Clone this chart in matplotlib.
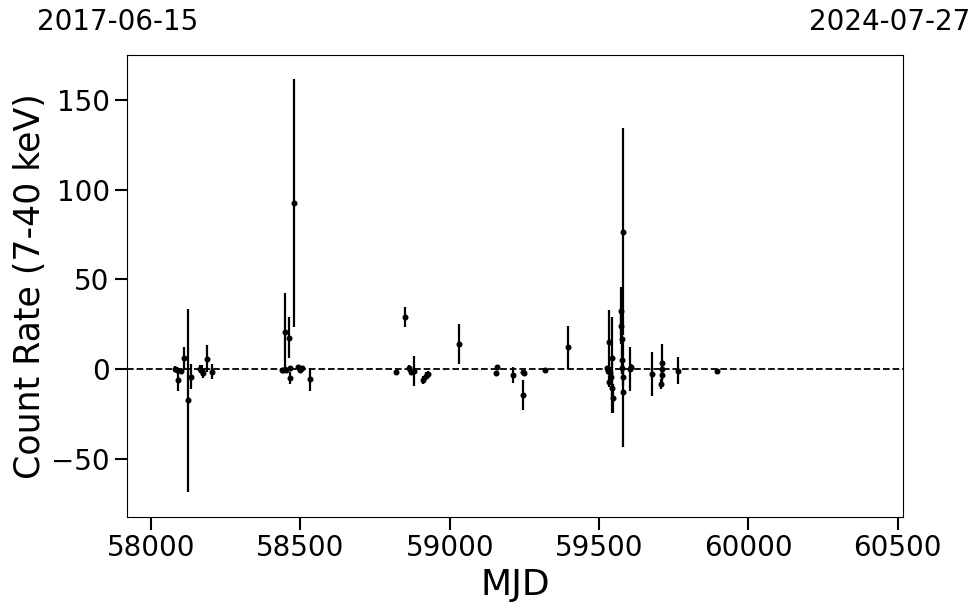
import datetime as dt
import numpy as np
import matplotlib
matplotlib.use("Agg")
import matplotlib.pyplot as plt

# MJD, count rate (7-40 keV), 1-sigma error
mjd = [58080, 58086, 58091, 58099, 58110, 58123, 58134, 58162, 58170, 58175, 58188, 58204,
       58437, 58441, 58447, 58452, 58460, 58465, 58466, 58478, 58491, 58499, 58506, 58533,
       58820, 58850, 58865, 58871, 58880, 58911, 58920, 58926, 59031,
       59155, 59159, 59213, 59246, 59250, 59247, 59318, 59396,
       59526, 59529, 59532, 59534, 59537, 59540, 59542, 59545, 59548,
       59573, 59575, 59576, 59577, 59578, 59579, 59580, 59581, 59604, 59607,
       59678, 59710, 59710, 59711, 59709, 59765, 59895]
rate = [0.0, -0.5, -6.1, -1.0, 6.0, -17.3, -4.3, 0.0, -1.0, -2.3, 5.6, -1.5,
        -0.5, -0.8, 20.8, -0.5, 17.5, 0.4, -5.2, 92.4, 1.0, -0.5, 0.5, -5.8,
        -1.7, 29.2, 0.4, -1.5, -1.1, -6.1, -3.9, -2.8, 13.8,
        -2.4, 1.3, -3.3, -1.5, -2.0, -14.5, -0.5, 12.1,
        0.4, -1.0, 15.2, -7.1, -2.0, -4.3, 6.0, -10.8, -16.4,
        32.3, 24.0, 16.5, 5.0, 0.4, -4.3, -12.6, 76.6, 0.0, 1.0,
        -2.8, 3.2, 0.0, -3.3, -8.4, -0.9, -1.1]
err = [1.5, 1.5, 6.0, 1.5, 6.3, 51.0, 7.0, 2.0, 3.0, 3.0, 7.5, 4.2,
       1.0, 1.0, 21.4, 1.5, 11.6, 1.5, 3.4, 69.2, 1.0, 1.0, 1.0, 6.3,
       1.0, 5.6, 2.0, 2.0, 8.4, 2.0, 2.0, 1.5, 11.2,
       1.0, 1.0, 4.3, 1.0, 1.0, 8.4, 0.8, 12.1,
       1.5, 2.0, 17.7, 3.0, 3.0, 3.0, 23.0, 14.0, 8.0,
       13.6, 10.0, 10.0, 8.0, 3.0, 5.0, 30.7, 57.6, 12.0, 1.5,
       12.5, 11.0, 2.0, 3.0, 3.0, 7.5, 1.0]

mjd_lim = (57919, 60518)
ylim = (-82.5, 175)


def mjd_to_date(m):
    return (dt.date(1858, 11, 17) + dt.timedelta(days=m)).isoformat()


fig = plt.figure(figsize=(9.8, 6.13), dpi=100)
ax = fig.add_axes([0.1296, 0.1566, 0.7918, 0.7537])

ax.errorbar(mjd, rate, yerr=err, fmt="o", color="black", ms=3.3,
            elinewidth=1.6, capsize=0, zorder=3)
ax.axhline(0, color="black", ls="--", lw=1.3, zorder=2)

ax.set_xlim(*mjd_lim)
ax.set_ylim(*ylim)
ax.set_xticks([58000, 58500, 59000, 59500, 60000, 60500])
ax.set_yticks([-50, 0, 50, 100, 150])
ax.tick_params(axis="both", which="major", labelsize=20, length=9, width=1.5)
ax.set_xlabel("MJD", fontsize=26)
ax.set_ylabel("Count Rate (7-40 keV)", fontsize=25, labelpad=3)

# date labels at the ends of the time range
fig.text(118 / 980, 1 - 22 / 613, mjd_to_date(mjd_lim[0]), ha="center", va="center", fontsize=20)
fig.text(890 / 980, 1 - 22 / 613, mjd_to_date(mjd_lim[1]), ha="center", va="center", fontsize=20)

fig.savefig("out.png", dpi=100)
